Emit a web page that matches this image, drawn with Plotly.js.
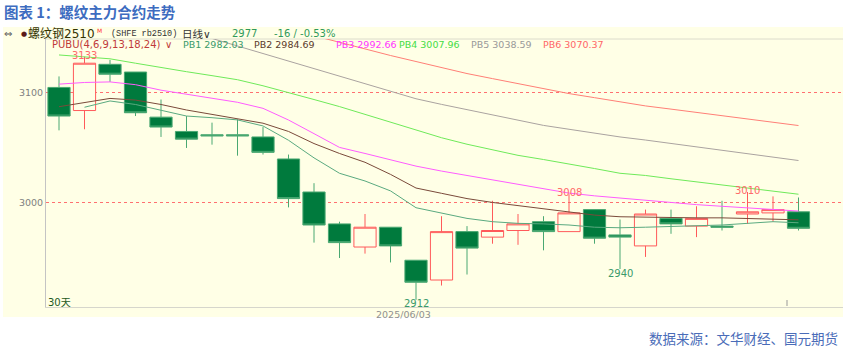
<!DOCTYPE html>
<html><head><meta charset="utf-8">
<script src="https://cdn.plot.ly/plotly-3.0.1.min.js"></script>
<style>html,body{margin:0;padding:0;background:#fff;}#chart{width:843px;height:354px;}</style>
</head><body><div id="chart"></div>
<script>
// ---- data ----
const dayIndex = [0,1,2,3,4,5,6,7,8,9,10,11,12,13,14,15,16,17,18,19,20,21,22,23,24,25,26,27,28,29];
const openP  = [3105,3084,3126,3119,3078,3065,3062,3062,3060,3040,3010,2981,2960,2978,2948,2930,2974,2969,2975,2983,2974,2994,2971,2961,2986,2979,2979,2990,2991,2992];
const highP  = [3115,3133,3130,3119,3094,3079,3073,3076,3069,3044,3018,2983,2990,2978,2948,2988,2979,3002,2990,2988,3008,2994,2985,2994,2994,2997,3002,3010,3006,3005];
const lowP   = [3066,3067,3110,3079,3060,3050,3053,3043,3044,2996,2964,2950,2954,2946,2912,2925,2935,2963,2962,2957,2974,2963,2940,2951,2972,2969,2975,2981,2983,2975];
const closeP = [3079,3127,3117,3082,3069,3058,3061,3061,3046,3004,2980,2964,2978,2961,2928,2974,2959,2975,2981,2974,2991,2968,2969,2990,2981,2986,2978,2992,2994,2977];

const pb1 = [null,3087,3092.7,3089.5,3084.5,3079,3077.5,3075.5,3070,3057,3041,3027,3020,3011,2995.7,2990.6,2986,2983,2981.5,2981,2980,2978,2977.5,2978,2978.5,2979,2980,2981.5,2983,2982.03];
const pb2 = [3087.5,3091.5,3095,3093.5,3089.5,3084.5,3080.5,3076.5,3072.5,3065,3054,3045,3037,3026,3013.6,3008.8,3004,3000.5,2997.5,2994.7,2991.5,2989,2987.5,2987,2987,2986.5,2986.5,2986,2985.5,2984.69];
const pb3 = [3108,3109.5,3110,3107.5,3102.5,3099,3095.5,3091.5,3086,3075.4,3063,3050.5,3045,3039,3033.5,3029,3025,3021.5,3017.5,3013.3,3009,3006.5,3004.5,3002,3000,2998.5,2997,2995.5,2994.5,2992.66];
const pb4 = [3134.5,3133,3131,3127,3123,3119.3,3115.7,3112,3106.5,3100.5,3094,3087.6,3080.4,3073.2,3066.2,3059.3,3053.4,3048,3043.3,3039.5,3035.7,3031.3,3027,3025,3022,3019.2,3016.4,3013.5,3010.7,3007.96];
const pb5 = [null,null,null,null,null,null,3149.5,3142.7,3136,3129,3122.3,3115.5,3108.7,3101.7,3094.7,3089.6,3084.9,3080,3075.2,3070.5,3067,3063.5,3060,3057.2,3054.2,3051,3047.9,3044.7,3041.6,3038.59];
const pb6 = [null,null,null,null,null,null,null,null,null,null,3152,3146.3,3140,3134,3128.5,3123,3117.6,3113,3108.5,3103.9,3099.4,3095.7,3091.9,3088.2,3085.3,3082.3,3079.3,3076.3,3073.3,3070.37];

const pbNames  = ['PB1','PB2','PB3','PB4','PB5','PB6'];
const pbLast   = ['2982.03','2984.69','2992.66','3007.96','3038.59','3070.37'];
const yTicks   = [3000, 3100];
const markIdx  = [1, 20, 27];      // marked highs
const markLowIdx = [14, 22];       // marked lows

// ---- styles ----
const pbColors = ['#5aaa80','#7a4a3a','#ff5cff','#6fea5a','#aaa3a0','#ff7f77'];
const pbTextColors = ['#3a9a6a','#5a3a2a','#ff33ff','#44dd44','#999999','#ff6666'];
const pbX = [181,252,334,397,469,541];
const W = 843, H = 354, L = 46, T = 39, B = 47;
const px = x => (x - L) / (W - L);
const py = y => (H - B - y) / (H - B - T);
const SANS = 'DejaVu Sans, Verdana, sans-serif';
const CJK = 'DejaVu Sans, Noto Sans CJK SC, sans-serif';

const traces = [{
  type:'candlestick', x:dayIndex, open:openP, high:highP, low:lowP, close:closeP,
  increasing:{line:{color:'#ff5a5a', width:1}, fillcolor:'#FFFFE6'},
  decreasing:{line:{color:'#4aa872', width:1}, fillcolor:'#007a3d'},
  whiskerwidth:0, hoverinfo:'skip', showlegend:false
}];
[pb1,pb2,pb3,pb4,pb5,pb6].forEach((arr,i)=>{
  traces.push({type:'scatter', mode:'lines', x:dayIndex, y:arr, line:{color:pbColors[i], width:1},
    hoverinfo:'skip', showlegend:false, connectgaps:false});
});

const ann = [];
function txt(text, x, y, color, size, family, xanchor, extra){
  ann.push(Object.assign({xref:'paper', yref:'paper', x:px(x), y:py(y), text:text, showarrow:false,
    xanchor:xanchor||'left', yanchor:'middle', font:{color:color, size:size, family:family||SANS}}, extra||{}));
}
// title + source
txt('<b>图表 1：螺纹主力合约走势</b>', 2, 11.5, '#3d6cc0', 14.5, 'Noto Sans CJK SC');
txt('数据来源：文华财经、国元期货', 840, 338, '#4a6cb8', 13.5, 'Noto Sans CJK SC', 'right');
// header row
txt('⇔', 2, 34, '#555555', 10);
txt('●', 19, 34, '#5a1a1a', 7);
txt('螺纹钢2510', 26, 34, '#333300', 12, CJK);
txt('M', 95, 31, '#ff3333', 6);
txt('(SHFE rb2510)', 109, 34, '#333333', 8.5, 'Liberation Mono, monospace');
txt('日线∨', 180, 34, '#333333', 10.5, CJK);
txt('2977', 230, 34, '#2f9a5a', 10);
txt('-16 / -0.53%', 272, 34, '#2f9a5a', 10);
// PUBU legend row
txt('PUBU(4,6,9,13,18,24)', 50, 44, '#c03a3a', 10);
txt('∨', 163, 44, '#c03a3a', 10, CJK);
pbNames.forEach((n,i)=> txt(n + ' ' + pbLast[i], pbX[i], 44, pbTextColors[i], 9.5));
// misc labels
txt('30天', 46, 302.5, '#1e5a1e', 10, CJK);
txt('2025/06/03', 403, 314, '#909090', 9.5, SANS, 'center');
// high/low labels from data
markIdx.forEach(i => ann.push({xref:'x', yref:'y', x:dayIndex[i], y:highP[i], text:String(highP[i]),
  showarrow:false, yanchor:'middle', yshift:1.5, font:{color:'#ff6a6a', size:10, family:SANS}}));
markLowIdx.forEach(i => ann.push({xref:'x', yref:'y', x:dayIndex[i], y:lowP[i], text:String(lowP[i]),
  showarrow:false, yanchor:'middle', yshift:-4, font:{color:'#3a9a6a', size:10, family:SANS}}));

const shapes = [
  {type:'rect', xref:'paper', yref:'paper', x0:px(3), x1:px(843), y0:py(317), y1:py(27),
   fillcolor:'#FFFFE6', line:{width:0}, layer:'below'},
  {type:'line', xref:'paper', yref:'paper', x0:px(46), x1:px(843), y0:py(39), y1:py(39),
   line:{color:'#dcdccc', width:1}, layer:'below'},
  {type:'line', xref:'paper', yref:'paper', x0:px(787), x1:px(787), y0:py(306), y1:py(300),
   line:{color:'#999999', width:1}}
];

const layout = {
  width:W, height:H, margin:{l:L, r:0, t:T, b:B, pad:0},
  paper_bgcolor:'#ffffff', plot_bgcolor:'#FFFFE6',
  showlegend:false, boxgap:0.13, boxgroupgap:0, dragmode:false,
  xaxis:{range:[-0.51, 30.745], showticklabels:false, showgrid:false, zeroline:false,
    showline:true, linecolor:'#d6d6cc', linewidth:1, ticks:'', rangeslider:{visible:false}, fixedrange:true},
  yaxis:{range:[2905.5, 3149], tickvals:yTicks, ticktext:yTicks.map(String), showgrid:true,
    gridcolor:'#ff7070', griddash:'dot', gridwidth:1, zeroline:false, showline:true,
    linecolor:'#c4c4c4', linewidth:1, ticks:'', tickfont:{family:SANS, size:9.5, color:'#808080'}, fixedrange:true},
  annotations:ann, shapes:shapes
};
Plotly.newPlot('chart', traces, layout, {displayModeBar:false, staticPlot:true});
</script></body></html>
